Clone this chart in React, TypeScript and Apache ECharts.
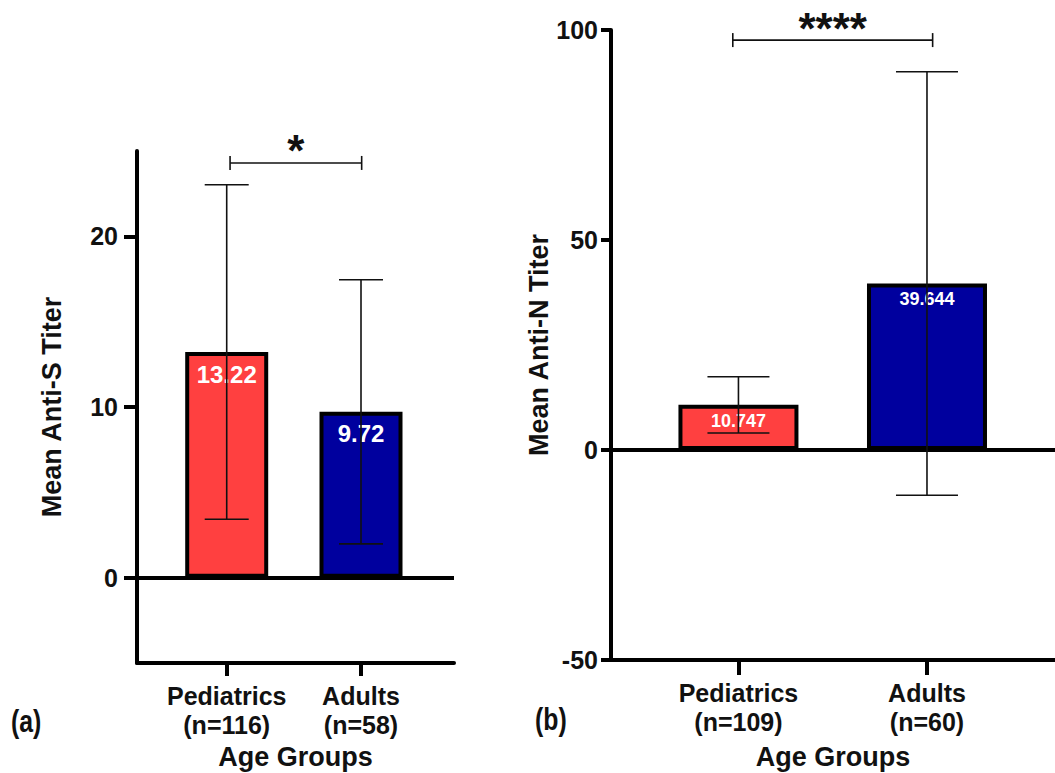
import React, { useEffect, useRef } from "react";
import * as echarts from "echarts";

// ---- data ----
const categoriesA = ["Pediatrics\n(n=116)", "Adults\n(n=58)"];
const meansA = [13.22, 9.72];
const sdA = [9.8, 7.74];
const ticksA = [0, 10, 20];
const sigA = { label: "*", from: 1.025, to: 2.005, y: 24.3 };

const categoriesB = ["Pediatrics\n(n=109)", "Adults\n(n=60)"];
const meansB = [10.747, 39.644];
const sdB = [6.7, 50.4];
const ticksB = [-50, 0, 50, 100];
const sigB = { label: "****", from: 0.97, to: 2.03, y: 97.6 };

const barColors = ["#FF4040", "#00009E"];
const FONT = '"Liberation Sans", Arial, Helvetica, sans-serif';

function barData(means: number[]) {
  return means.map((m, i) => ({
    value: [i + 1, m],
    itemStyle: { color: barColors[i] },
  }));
}

function errData(means: number[], sd: number[]) {
  return means.map((m, i) => [i + 1, m - sd[i], m + sd[i]]);
}

function errRender(capHalf: number) {
  return (params: any, api: any) => {
    const x = api.value(0);
    const lo = api.coord([x, api.value(1)]);
    const hi = api.coord([x, api.value(2)]);
    const style = { stroke: "#111", lineWidth: 1.6 };
    return {
      type: "group",
      children: [
        { type: "line", shape: { x1: hi[0], y1: hi[1], x2: lo[0], y2: lo[1] }, style },
        { type: "line", shape: { x1: hi[0] - capHalf, y1: hi[1], x2: hi[0] + capHalf, y2: hi[1] }, style },
        { type: "line", shape: { x1: lo[0] - capHalf, y1: lo[1], x2: lo[0] + capHalf, y2: lo[1] }, style },
      ],
    };
  };
}

function bracketRender(label: string) {
  return (params: any, api: any) => {
    const a = api.coord([api.value(0), api.value(2)]);
    const b = api.coord([api.value(1), api.value(2)]);
    const style = { stroke: "#111", lineWidth: 1.6 };
    return {
      type: "group",
      children: [
        { type: "line", shape: { x1: a[0], y1: a[1], x2: b[0], y2: b[1] }, style },
        { type: "line", shape: { x1: a[0], y1: a[1] - 7, x2: a[0], y2: a[1] + 7 }, style },
        { type: "line", shape: { x1: b[0], y1: b[1] - 7, x2: b[0], y2: b[1] + 7 }, style },
        {
          type: "text",
          style: {
            text: label,
            x: (a[0] + b[0]) / 2,
            y: a[1] - 12,
            align: "center",
            verticalAlign: "middle",
            fontSize: 44,
            fontWeight: "bold",
            fontFamily: FONT,
            fill: "#111",
          },
        },
      ],
    };
  };
}

const axisLineStyle = { color: "#000", width: 4 };
const catLabel = {
  fontSize: 25,
  fontWeight: "bold",
  color: "#111",
  lineHeight: 29,
  margin: 18,
  fontFamily: FONT,
};
const nameStyle = { fontSize: 27, fontWeight: "bold", color: "#111", fontFamily: FONT };
const tickLabel = { fontSize: 25, fontWeight: "bold", color: "#111", fontFamily: FONT };

export default function App() {
  const ref = useRef<HTMLDivElement>(null);

  useEffect(() => {
    document.body.style.margin = "0";
    if (!ref.current) return;
    const chart = echarts.init(ref.current, undefined, { renderer: "svg" });

    const option: any = {
      animation: false,
      backgroundColor: "#fff",
      textStyle: { fontFamily: FONT },
      grid: [
        { left: 137, top: 151, width: 317, height: 512, outerBoundsMode: "none", containLabel: false },
        { left: 611, top: 30, width: 444, height: 630, outerBoundsMode: "none", containLabel: false },
      ],
      xAxis: [
        {
          type: "value",
          gridIndex: 0,
          min: 0.332,
          max: 2.6925,
          splitLine: { show: false },
          axisLine: { onZero: false, lineStyle: axisLineStyle },
          axisTick: { customValues: [1, 2], length: 13, lineStyle: axisLineStyle },
          axisLabel: {
            ...catLabel,
            customValues: [1, 2],
            formatter: (v: number) => categoriesA[Math.round(v) - 1] ?? "",
          },
          name: "Age Groups",
          nameLocation: "middle",
          nameGap: 80,
          nameTextStyle: nameStyle,
        },
        {
          type: "value",
          gridIndex: 1,
          min: 0.324,
          max: 2.679,
          splitLine: { show: false },
          axisLine: { onZero: false, lineStyle: axisLineStyle },
          axisTick: { customValues: [1, 2], length: 15, lineStyle: axisLineStyle },
          axisLabel: {
            ...catLabel,
            customValues: [1, 2],
            formatter: (v: number) => categoriesB[Math.round(v) - 1] ?? "",
          },
          name: "Age Groups",
          nameLocation: "middle",
          nameGap: 83,
          nameTextStyle: nameStyle,
        },
      ],
      yAxis: [
        {
          type: "value",
          gridIndex: 0,
          min: -5,
          max: 25,
          splitLine: { show: false },
          axisLine: { show: true, onZero: false, lineStyle: axisLineStyle },
          axisTick: { show: true, customValues: ticksA, length: 13, lineStyle: axisLineStyle },
          axisLabel: { ...tickLabel, customValues: ticksA, margin: 19 },
          name: "Mean Anti-S Titer",
          nameLocation: "middle",
          nameGap: 72,
          nameTextStyle: nameStyle,
        },
        {
          type: "value",
          gridIndex: 1,
          min: -50,
          max: 100,
          splitLine: { show: false },
          axisLine: { show: true, onZero: false, lineStyle: axisLineStyle },
          axisTick: { show: true, customValues: ticksB, length: 10, lineStyle: axisLineStyle },
          axisLabel: { ...tickLabel, customValues: ticksB, margin: 13 },
          name: "Mean Anti-N Titer",
          nameLocation: "middle",
          nameGap: 59,
          nameTextStyle: nameStyle,
        },
      ],
      series: [
        {
          type: "bar",
          xAxisIndex: 0,
          yAxisIndex: 0,
          barWidth: 83,
          data: barData(meansA),
          itemStyle: { borderColor: "#000", borderWidth: 4 },
          label: {
            show: true,
            position: "insideTop",
            distance: 10,
            formatter: (p: any) => String(p.value[1]),
            color: "#fff",
            fontSize: 24,
            fontWeight: "bold",
            fontFamily: FONT,
          },
          markLine: {
            silent: true,
            symbol: "none",
            label: { show: false },
            lineStyle: { color: "#000", width: 4, type: "solid" },
            data: [{ yAxis: 0 }],
          },
          z: 2,
        },
        {
          type: "custom",
          xAxisIndex: 0,
          yAxisIndex: 0,
          renderItem: errRender(22),
          data: errData(meansA, sdA),
          z: 5,
        },
        {
          type: "custom",
          xAxisIndex: 0,
          yAxisIndex: 0,
          renderItem: bracketRender(sigA.label),
          data: [[sigA.from, sigA.to, sigA.y]],
          clip: false,
          z: 5,
        },
        {
          type: "bar",
          xAxisIndex: 1,
          yAxisIndex: 1,
          barWidth: 120,
          data: barData(meansB),
          itemStyle: { borderColor: "#000", borderWidth: 4 },
          label: {
            show: true,
            position: "insideTop",
            distance: 7,
            formatter: (p: any) => String(p.value[1]),
            color: "#fff",
            fontSize: 18,
            fontWeight: "bold",
            fontFamily: FONT,
          },
          markLine: {
            silent: true,
            symbol: "none",
            label: { show: false },
            lineStyle: { color: "#000", width: 4, type: "solid" },
            data: [{ yAxis: 0 }],
          },
          z: 2,
        },
        {
          type: "custom",
          xAxisIndex: 1,
          yAxisIndex: 1,
          renderItem: errRender(31),
          data: errData(meansB, sdB),
          z: 5,
        },
        {
          type: "custom",
          xAxisIndex: 1,
          yAxisIndex: 1,
          renderItem: bracketRender(sigB.label),
          data: [[sigB.from, sigB.to, sigB.y]],
          clip: false,
          z: 5,
        },
      ],
      graphic: [
        {
          type: "text",
          x: 11,
          y: 706,
          scaleX: 0.8,
          style: {
            text: "(a)",
            fontSize: 31,
            fontWeight: "bold",
            fontFamily: FONT,
            fill: "#111",
          },
        },
        {
          type: "text",
          x: 535,
          y: 704,
          scaleX: 0.8,
          style: {
            text: "(b)",
            fontSize: 31,
            fontWeight: "bold",
            fontFamily: FONT,
            fill: "#111",
          },
        },
      ],
    };

    chart.setOption(option);
    return () => chart.dispose();
  }, []);

  return <div ref={ref} style={{ width: 1055, height: 773 }} />;
}
